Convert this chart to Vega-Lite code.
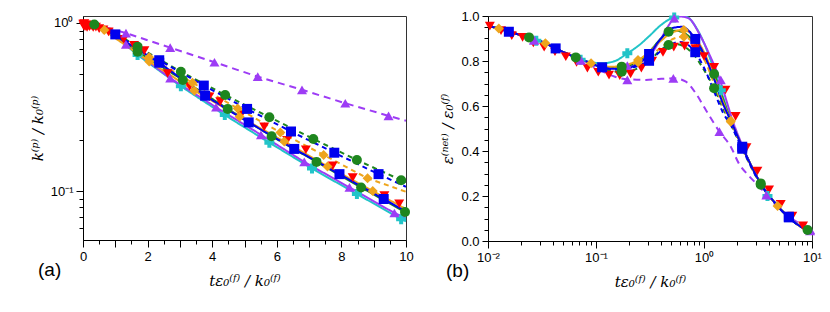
{
"$schema":"https://vega.github.io/schema/vega-lite/v6.json",
"padding":{"left":29,"top":9,"right":5,"bottom":5},
"spacing":26,
"datasets":{
"kl":[
{"s":"C","x":0,"y":1},{"s":"C","x":0.5,"y":0.95},{"s":"C","x":1,"y":0.835},{"s":"C","x":1.69,"y":0.645},{"s":"C","x":3.03,"y":0.42},{"s":"C","x":4.39,"y":0.283},{"s":"C","x":5.77,"y":0.194},{"s":"C","x":7.09,"y":0.136},{"s":"C","x":8.48,"y":0.096},{"s":"C","x":9.85,"y":0.068},{"s":"C","x":10,"y":0.066},
{"s":"PS","x":0,"y":1},{"s":"PS","x":0.5,"y":0.95},{"s":"PS","x":1,"y":0.83},{"s":"PS","x":1.33,"y":0.745},{"s":"PS","x":2.7,"y":0.469},{"s":"PS","x":4.12,"y":0.315},{"s":"PS","x":5.51,"y":0.216},{"s":"PS","x":6.85,"y":0.149},{"s":"PS","x":8.25,"y":0.105},{"s":"PS","x":9.64,"y":0.074},{"s":"PS","x":10,"y":0.069},
{"s":"PD","x":0,"y":1},{"s":"PD","x":0.5,"y":0.965},{"s":"PD","x":1.33,"y":0.87},{"s":"PD","x":2.7,"y":0.713},{"s":"PD","x":4.07,"y":0.584},{"s":"PD","x":5.41,"y":0.479},{"s":"PD","x":6.78,"y":0.4},{"s":"PD","x":8.12,"y":0.333},{"s":"PD","x":9.46,"y":0.28},{"s":"PD","x":10,"y":0.262},
{"s":"GD","x":0,"y":1},{"s":"GD","x":0.35,"y":0.98},{"s":"GD","x":1,"y":0.87},{"s":"GD","x":1.69,"y":0.723},{"s":"GD","x":3.03,"y":0.513},{"s":"GD","x":4.4,"y":0.373},{"s":"GD","x":5.77,"y":0.275},{"s":"GD","x":7.13,"y":0.204},{"s":"GD","x":8.48,"y":0.153},{"s":"GD","x":9.85,"y":0.116},{"s":"GD","x":10,"y":0.113},
{"s":"GS","x":0,"y":1},{"s":"GS","x":0.35,"y":0.975},{"s":"GS","x":1,"y":0.85},{"s":"GS","x":1.69,"y":0.675},{"s":"GS","x":3.09,"y":0.458},{"s":"GS","x":4.48,"y":0.308},{"s":"GS","x":5.84,"y":0.212},{"s":"GS","x":7.23,"y":0.149},{"s":"GS","x":8.61,"y":0.105},{"s":"GS","x":9.97,"y":0.075},{"s":"GS","x":10,"y":0.074},
{"s":"OD","x":0,"y":1},{"s":"OD","x":0.66,"y":0.908},{"s":"OD","x":2.05,"y":0.625},{"s":"OD","x":3.39,"y":0.441},{"s":"OD","x":4.79,"y":0.31},{"s":"OD","x":6.11,"y":0.223},{"s":"OD","x":7.45,"y":0.164},{"s":"OD","x":8.81,"y":0.119},{"s":"OD","x":10,"y":0.099},
{"s":"OS","x":0,"y":1},{"s":"OS","x":0.66,"y":0.9},{"s":"OS","x":2.05,"y":0.59},{"s":"OS","x":3.45,"y":0.395},{"s":"OS","x":4.85,"y":0.277},{"s":"OS","x":6.23,"y":0.197},{"s":"OS","x":7.57,"y":0.14},{"s":"OS","x":8.97,"y":0.1},{"s":"OS","x":10,"y":0.078},
{"s":"BD","x":0,"y":1},{"s":"BD","x":0.5,"y":0.96},{"s":"BD","x":1,"y":0.855},{"s":"BD","x":2.36,"y":0.6},{"s":"BD","x":3.74,"y":0.424},{"s":"BD","x":5.08,"y":0.308},{"s":"BD","x":6.44,"y":0.226},{"s":"BD","x":7.78,"y":0.169},{"s":"BD","x":9.15,"y":0.126},{"s":"BD","x":10,"y":0.106},
{"s":"BS","x":0,"y":1},{"s":"BS","x":0.5,"y":0.955},{"s":"BS","x":1,"y":0.845},{"s":"BS","x":2.36,"y":0.58},{"s":"BS","x":3.78,"y":0.369},{"s":"BS","x":5.13,"y":0.256},{"s":"BS","x":6.54,"y":0.178},{"s":"BS","x":7.94,"y":0.126},{"s":"BS","x":9.31,"y":0.0896},{"s":"BS","x":10,"y":0.0755}
],
"km":[
{"s":"R","x":0.01,"y":0.985},{"s":"R","x":0.02,"y":0.96},{"s":"R","x":0.04,"y":0.99},{"s":"R","x":0.063,"y":0.95},{"s":"R","x":0.1,"y":0.975},{"s":"R","x":0.126,"y":0.94},{"s":"R","x":0.158,"y":0.97},{"s":"R","x":0.2,"y":0.95},{"s":"R","x":0.25,"y":0.965},{"s":"R","x":0.316,"y":0.94},{"s":"R","x":0.4,"y":0.945},{"s":"R","x":0.5,"y":0.925},{"s":"R","x":0.63,"y":0.91},{"s":"R","x":0.79,"y":0.885},{"s":"R","x":1.0,"y":0.85},{"s":"R","x":1.26,"y":0.8},{"s":"R","x":1.58,"y":0.735},{"s":"R","x":1.9,"y":0.684},{"s":"R","x":2.62,"y":0.5},{"s":"R","x":3.3,"y":0.42},{"s":"R","x":3.91,"y":0.364},{"s":"R","x":4.25,"y":0.34},{"s":"R","x":4.89,"y":0.283},{"s":"R","x":5.61,"y":0.241},{"s":"R","x":6.32,"y":0.2},{"s":"R","x":6.9,"y":0.176},{"s":"R","x":7.73,"y":0.141},{"s":"R","x":8.35,"y":0.12},{"s":"R","x":9.33,"y":0.094},{"s":"R","x":9.79,"y":0.084},
{"s":"C","x":1.69,"y":0.645},{"s":"C","x":3.03,"y":0.42},{"s":"C","x":4.39,"y":0.283},{"s":"C","x":5.77,"y":0.194},{"s":"C","x":7.09,"y":0.136},{"s":"C","x":8.48,"y":0.096},{"s":"C","x":9.85,"y":0.068},
{"s":"PS","x":1.33,"y":0.745},{"s":"PS","x":2.7,"y":0.469},{"s":"PS","x":4.12,"y":0.315},{"s":"PS","x":5.51,"y":0.216},{"s":"PS","x":6.85,"y":0.149},{"s":"PS","x":8.25,"y":0.105},{"s":"PS","x":9.64,"y":0.074},
{"s":"PD","x":1.33,"y":0.87},{"s":"PD","x":2.7,"y":0.713},{"s":"PD","x":4.07,"y":0.584},{"s":"PD","x":5.41,"y":0.479},{"s":"PD","x":6.78,"y":0.4},{"s":"PD","x":8.12,"y":0.333},{"s":"PD","x":9.46,"y":0.28},
{"s":"GD","x":0.35,"y":0.98},{"s":"GD","x":1.69,"y":0.723},{"s":"GD","x":3.03,"y":0.513},{"s":"GD","x":4.4,"y":0.373},{"s":"GD","x":5.77,"y":0.275},{"s":"GD","x":7.13,"y":0.204},{"s":"GD","x":8.48,"y":0.153},{"s":"GD","x":9.85,"y":0.116},
{"s":"GS","x":1.69,"y":0.675},{"s":"GS","x":3.09,"y":0.458},{"s":"GS","x":4.48,"y":0.308},{"s":"GS","x":5.84,"y":0.212},{"s":"GS","x":7.23,"y":0.149},{"s":"GS","x":8.61,"y":0.105},{"s":"GS","x":9.97,"y":0.075},
{"s":"OD","x":0.66,"y":0.908},{"s":"OD","x":2.05,"y":0.625},{"s":"OD","x":3.39,"y":0.441},{"s":"OD","x":4.79,"y":0.31},{"s":"OD","x":6.11,"y":0.223},{"s":"OD","x":7.45,"y":0.164},{"s":"OD","x":8.81,"y":0.119},
{"s":"OS","x":2.05,"y":0.59},{"s":"OS","x":3.45,"y":0.395},{"s":"OS","x":4.85,"y":0.277},{"s":"OS","x":6.23,"y":0.197},{"s":"OS","x":7.57,"y":0.14},{"s":"OS","x":8.97,"y":0.1},
{"s":"BD","x":1.0,"y":0.855},{"s":"BD","x":2.36,"y":0.6},{"s":"BD","x":3.74,"y":0.424},{"s":"BD","x":5.08,"y":0.308},{"s":"BD","x":6.44,"y":0.226},{"s":"BD","x":7.78,"y":0.169},{"s":"BD","x":9.15,"y":0.126},
{"s":"BS","x":2.36,"y":0.58},{"s":"BS","x":3.78,"y":0.369},{"s":"BS","x":5.13,"y":0.256},{"s":"BS","x":6.54,"y":0.178},{"s":"BS","x":7.94,"y":0.126},{"s":"BS","x":9.31,"y":0.0896}
],
"el":[
{"s":"PD","x":0.01,"y":0.958},{"s":"PD","x":0.0156,"y":0.93},{"s":"PD","x":0.024,"y":0.905},{"s":"PD","x":0.034,"y":0.879},{"s":"PD","x":0.0423,"y":0.856},{"s":"PD","x":0.065,"y":0.814},{"s":"PD","x":0.09,"y":0.78},{"s":"PD","x":0.114,"y":0.755},{"s":"PD","x":0.15,"y":0.73},{"s":"PD","x":0.195,"y":0.719},{"s":"PD","x":0.29,"y":0.716},{"s":"PD","x":0.38,"y":0.72},{"s":"PD","x":0.53,"y":0.723},{"s":"PD","x":0.68,"y":0.708},{"s":"PD","x":0.84,"y":0.656},{"s":"PD","x":1.04,"y":0.582},{"s":"PD","x":1.39,"y":0.486},{"s":"PD","x":1.77,"y":0.419},{"s":"PD","x":2.1,"y":0.345},{"s":"PD","x":2.6,"y":0.29},{"s":"PD","x":3.35,"y":0.235},{"s":"PD","x":4.0,"y":0.19},{"s":"PD","x":5,"y":0.145},{"s":"PD","x":6,"y":0.112},{"s":"PD","x":7.6,"y":0.079},{"s":"PD","x":10,"y":0.048},
{"s":"C","x":0.01,"y":0.958},{"s":"C","x":0.0156,"y":0.93},{"s":"C","x":0.024,"y":0.905},{"s":"C","x":0.034,"y":0.879},{"s":"C","x":0.0423,"y":0.856},{"s":"C","x":0.065,"y":0.816},{"s":"C","x":0.09,"y":0.795},{"s":"C","x":0.114,"y":0.79},{"s":"C","x":0.15,"y":0.8},{"s":"C","x":0.195,"y":0.834},{"s":"C","x":0.25,"y":0.87},{"s":"C","x":0.31,"y":0.91},{"s":"C","x":0.4,"y":0.96},{"s":"C","x":0.5,"y":0.99},{"s":"C","x":0.6,"y":1.0},{"s":"C","x":0.7,"y":0.995},{"s":"C","x":0.83,"y":0.955},{"s":"C","x":1.0,"y":0.88},{"s":"C","x":1.24,"y":0.76},{"s":"C","x":1.5,"y":0.64},{"s":"C","x":1.77,"y":0.54},{"s":"C","x":2.26,"y":0.42},{"s":"C","x":3.35,"y":0.256},{"s":"C","x":4.8,"y":0.156},{"s":"C","x":6,"y":0.108},{"s":"C","x":9.1,"y":0.049},{"s":"C","x":10,"y":0.043},
{"s":"PS","x":0.01,"y":0.958},{"s":"PS","x":0.0156,"y":0.93},{"s":"PS","x":0.024,"y":0.905},{"s":"PS","x":0.034,"y":0.879},{"s":"PS","x":0.0423,"y":0.856},{"s":"PS","x":0.065,"y":0.816},{"s":"PS","x":0.09,"y":0.79},{"s":"PS","x":0.114,"y":0.772},{"s":"PS","x":0.15,"y":0.768},{"s":"PS","x":0.2,"y":0.778},{"s":"PS","x":0.25,"y":0.792},{"s":"PS","x":0.31,"y":0.82},{"s":"PS","x":0.4,"y":0.9},{"s":"PS","x":0.5,"y":0.975},{"s":"PS","x":0.6,"y":0.998},{"s":"PS","x":0.72,"y":0.99},{"s":"PS","x":0.9,"y":0.923},{"s":"PS","x":1.11,"y":0.834},{"s":"PS","x":1.37,"y":0.73},{"s":"PS","x":1.67,"y":0.6},{"s":"PS","x":1.77,"y":0.56},{"s":"PS","x":2.26,"y":0.425},{"s":"PS","x":3.35,"y":0.256},{"s":"PS","x":4.8,"y":0.156},{"s":"PS","x":6,"y":0.108},{"s":"PS","x":9.1,"y":0.049},{"s":"PS","x":10,"y":0.043},
{"s":"GD","x":0.01,"y":0.958},{"s":"GD","x":0.0156,"y":0.93},{"s":"GD","x":0.024,"y":0.905},{"s":"GD","x":0.034,"y":0.879},{"s":"GD","x":0.0423,"y":0.856},{"s":"GD","x":0.065,"y":0.816},{"s":"GD","x":0.09,"y":0.79},{"s":"GD","x":0.114,"y":0.77},{"s":"GD","x":0.15,"y":0.753},{"s":"GD","x":0.2,"y":0.755},{"s":"GD","x":0.25,"y":0.77},{"s":"GD","x":0.31,"y":0.8},{"s":"GD","x":0.4,"y":0.85},{"s":"GD","x":0.47,"y":0.871},{"s":"GD","x":0.55,"y":0.875},{"s":"GD","x":0.65,"y":0.865},{"s":"GD","x":0.83,"y":0.82},{"s":"GD","x":1.0,"y":0.76},{"s":"GD","x":1.24,"y":0.679},{"s":"GD","x":1.5,"y":0.59},{"s":"GD","x":1.77,"y":0.52},{"s":"GD","x":2.26,"y":0.41},{"s":"GD","x":3.35,"y":0.252},{"s":"GD","x":4.8,"y":0.155},{"s":"GD","x":6,"y":0.107},{"s":"GD","x":9.1,"y":0.049},{"s":"GD","x":10,"y":0.043},
{"s":"GS","x":0.01,"y":0.958},{"s":"GS","x":0.0156,"y":0.93},{"s":"GS","x":0.024,"y":0.905},{"s":"GS","x":0.034,"y":0.879},{"s":"GS","x":0.0423,"y":0.856},{"s":"GS","x":0.065,"y":0.816},{"s":"GS","x":0.09,"y":0.79},{"s":"GS","x":0.114,"y":0.772},{"s":"GS","x":0.15,"y":0.77},{"s":"GS","x":0.2,"y":0.78},{"s":"GS","x":0.25,"y":0.8},{"s":"GS","x":0.31,"y":0.84},{"s":"GS","x":0.4,"y":0.9},{"s":"GS","x":0.47,"y":0.93},{"s":"GS","x":0.55,"y":0.935},{"s":"GS","x":0.65,"y":0.925},{"s":"GS","x":0.83,"y":0.88},{"s":"GS","x":1.0,"y":0.82},{"s":"GS","x":1.24,"y":0.742},{"s":"GS","x":1.5,"y":0.63},{"s":"GS","x":1.77,"y":0.535},{"s":"GS","x":2.26,"y":0.419},{"s":"GS","x":3.35,"y":0.256},{"s":"GS","x":4.8,"y":0.156},{"s":"GS","x":6,"y":0.108},{"s":"GS","x":9.1,"y":0.049},{"s":"GS","x":10,"y":0.043},
{"s":"OD","x":0.01,"y":0.958},{"s":"OD","x":0.0156,"y":0.93},{"s":"OD","x":0.024,"y":0.905},{"s":"OD","x":0.034,"y":0.879},{"s":"OD","x":0.0423,"y":0.856},{"s":"OD","x":0.065,"y":0.816},{"s":"OD","x":0.09,"y":0.79},{"s":"OD","x":0.114,"y":0.774},{"s":"OD","x":0.15,"y":0.77},{"s":"OD","x":0.2,"y":0.78},{"s":"OD","x":0.245,"y":0.795},{"s":"OD","x":0.31,"y":0.82},{"s":"OD","x":0.4,"y":0.86},{"s":"OD","x":0.5,"y":0.895},{"s":"OD","x":0.65,"y":0.908},{"s":"OD","x":0.8,"y":0.88},{"s":"OD","x":1.0,"y":0.81},{"s":"OD","x":1.24,"y":0.7},{"s":"OD","x":1.5,"y":0.6},{"s":"OD","x":1.77,"y":0.53},{"s":"OD","x":2.26,"y":0.415},{"s":"OD","x":3.35,"y":0.255},{"s":"OD","x":4.8,"y":0.156},{"s":"OD","x":6,"y":0.108},{"s":"OD","x":9.1,"y":0.049},{"s":"OD","x":10,"y":0.043},
{"s":"OS","x":0.01,"y":0.958},{"s":"OS","x":0.0156,"y":0.93},{"s":"OS","x":0.024,"y":0.905},{"s":"OS","x":0.034,"y":0.879},{"s":"OS","x":0.0423,"y":0.856},{"s":"OS","x":0.065,"y":0.816},{"s":"OS","x":0.09,"y":0.79},{"s":"OS","x":0.114,"y":0.775},{"s":"OS","x":0.15,"y":0.775},{"s":"OS","x":0.2,"y":0.785},{"s":"OS","x":0.245,"y":0.804},{"s":"OS","x":0.31,"y":0.84},{"s":"OS","x":0.4,"y":0.89},{"s":"OS","x":0.5,"y":0.925},{"s":"OS","x":0.65,"y":0.938},{"s":"OS","x":0.8,"y":0.91},{"s":"OS","x":1.0,"y":0.84},{"s":"OS","x":1.24,"y":0.73},{"s":"OS","x":1.5,"y":0.62},{"s":"OS","x":1.77,"y":0.535},{"s":"OS","x":2.26,"y":0.419},{"s":"OS","x":3.35,"y":0.256},{"s":"OS","x":4.8,"y":0.156},{"s":"OS","x":6,"y":0.108},{"s":"OS","x":9.1,"y":0.049},{"s":"OS","x":10,"y":0.043},
{"s":"BD","x":0.01,"y":0.958},{"s":"BD","x":0.0156,"y":0.93},{"s":"BD","x":0.024,"y":0.905},{"s":"BD","x":0.034,"y":0.879},{"s":"BD","x":0.0423,"y":0.856},{"s":"BD","x":0.065,"y":0.816},{"s":"BD","x":0.09,"y":0.79},{"s":"BD","x":0.114,"y":0.772},{"s":"BD","x":0.15,"y":0.762},{"s":"BD","x":0.2,"y":0.768},{"s":"BD","x":0.25,"y":0.78},{"s":"BD","x":0.31,"y":0.801},{"s":"BD","x":0.4,"y":0.845},{"s":"BD","x":0.5,"y":0.875},{"s":"BD","x":0.6,"y":0.885},{"s":"BD","x":0.72,"y":0.87},{"s":"BD","x":0.83,"y":0.839},{"s":"BD","x":1.0,"y":0.77},{"s":"BD","x":1.24,"y":0.665},{"s":"BD","x":1.5,"y":0.57},{"s":"BD","x":1.77,"y":0.515},{"s":"BD","x":2.26,"y":0.41},{"s":"BD","x":3.35,"y":0.252},{"s":"BD","x":4.8,"y":0.155},{"s":"BD","x":6,"y":0.106},{"s":"BD","x":9.1,"y":0.049},{"s":"BD","x":10,"y":0.043},
{"s":"BS","x":0.01,"y":0.958},{"s":"BS","x":0.0156,"y":0.93},{"s":"BS","x":0.024,"y":0.905},{"s":"BS","x":0.034,"y":0.879},{"s":"BS","x":0.0423,"y":0.856},{"s":"BS","x":0.065,"y":0.816},{"s":"BS","x":0.09,"y":0.79},{"s":"BS","x":0.114,"y":0.772},{"s":"BS","x":0.15,"y":0.765},{"s":"BS","x":0.2,"y":0.77},{"s":"BS","x":0.25,"y":0.79},{"s":"BS","x":0.31,"y":0.83},{"s":"BS","x":0.4,"y":0.9},{"s":"BS","x":0.5,"y":0.945},{"s":"BS","x":0.63,"y":0.952},{"s":"BS","x":0.72,"y":0.935},{"s":"BS","x":0.83,"y":0.898},{"s":"BS","x":1.0,"y":0.83},{"s":"BS","x":1.24,"y":0.72},{"s":"BS","x":1.5,"y":0.61},{"s":"BS","x":1.77,"y":0.535},{"s":"BS","x":2.26,"y":0.419},{"s":"BS","x":3.35,"y":0.256},{"s":"BS","x":4.8,"y":0.156},{"s":"BS","x":6,"y":0.108},{"s":"BS","x":9.1,"y":0.049},{"s":"BS","x":10,"y":0.043}
],
"em":[
{"s":"R","x":0.0104,"y":0.955},{"s":"R","x":0.0132,"y":0.935},{"s":"R","x":0.0166,"y":0.913},{"s":"R","x":0.0209,"y":0.905},{"s":"R","x":0.0263,"y":0.88},{"s":"R","x":0.0331,"y":0.861},{"s":"R","x":0.0417,"y":0.841},{"s":"R","x":0.0525,"y":0.819},{"s":"R","x":0.0661,"y":0.794},{"s":"R","x":0.0832,"y":0.768},{"s":"R","x":0.105,"y":0.75},{"s":"R","x":0.132,"y":0.737},{"s":"R","x":0.166,"y":0.735},{"s":"R","x":0.209,"y":0.743},{"s":"R","x":0.263,"y":0.768},{"s":"R","x":0.331,"y":0.8},{"s":"R","x":0.417,"y":0.838},{"s":"R","x":0.525,"y":0.862},{"s":"R","x":0.661,"y":0.866},{"s":"R","x":0.832,"y":0.855},{"s":"R","x":1.0,"y":0.82},{"s":"R","x":1.24,"y":0.772},{"s":"R","x":1.58,"y":0.671},{"s":"R","x":1.96,"y":0.554},{"s":"R","x":2.47,"y":0.415},{"s":"R","x":3.12,"y":0.311},{"s":"R","x":4.0,"y":0.227},{"s":"R","x":5.13,"y":0.163},{"s":"R","x":6.57,"y":0.111},{"s":"R","x":8.26,"y":0.067},
{"s":"C","x":0.028,"y":0.89},{"s":"C","x":0.072,"y":0.806},{"s":"C","x":0.195,"y":0.834},{"s":"C","x":0.53,"y":0.993},{"s":"C","x":1.43,"y":0.67},{"s":"C","x":3.87,"y":0.2},
{"s":"PD","x":0.0267,"y":0.893},{"s":"PD","x":0.072,"y":0.804},{"s":"PD","x":0.195,"y":0.716},{"s":"PD","x":0.52,"y":0.723},{"s":"PD","x":1.39,"y":0.486},{"s":"PD","x":3.78,"y":0.204},{"s":"PD","x":9.6,"y":0.05},
{"s":"PS","x":0.0267,"y":0.893},{"s":"PS","x":0.072,"y":0.804},{"s":"PS","x":0.195,"y":0.78},{"s":"PS","x":0.53,"y":0.99},{"s":"PS","x":1.43,"y":0.716},{"s":"PS","x":9.6,"y":0.045},
{"s":"GD","x":0.024,"y":0.905},{"s":"GD","x":0.065,"y":0.816},{"s":"GD","x":0.173,"y":0.752},{"s":"GD","x":0.47,"y":0.871},{"s":"GD","x":1.24,"y":0.679},{"s":"GD","x":3.35,"y":0.25},{"s":"GD","x":9.1,"y":0.049},
{"s":"GS","x":0.173,"y":0.775},{"s":"GS","x":0.47,"y":0.93},{"s":"GS","x":1.24,"y":0.742},{"s":"GS","x":3.35,"y":0.256},
{"s":"OD","x":0.0126,"y":0.945},{"s":"OD","x":0.034,"y":0.879},{"s":"OD","x":0.09,"y":0.79},{"s":"OD","x":0.245,"y":0.795},{"s":"OD","x":0.65,"y":0.908},{"s":"OD","x":1.77,"y":0.53},{"s":"OD","x":4.8,"y":0.156},
{"s":"OS","x":0.245,"y":0.804},{"s":"OS","x":0.65,"y":0.938},{"s":"OS","x":1.77,"y":0.535},
{"s":"BD","x":0.0156,"y":0.93},{"s":"BD","x":0.0423,"y":0.856},{"s":"BD","x":0.114,"y":0.772},{"s":"BD","x":0.31,"y":0.801},{"s":"BD","x":0.83,"y":0.839},{"s":"BD","x":2.26,"y":0.41},{"s":"BD","x":6.1,"y":0.105},
{"s":"BS","x":0.31,"y":0.831},{"s":"BS","x":0.83,"y":0.898},{"s":"BS","x":2.26,"y":0.419},{"s":"BS","x":6.1,"y":0.108}
]
},
"hconcat":[
{
"width":323,"height":224,
"title":{"text":"(a)","orient":"bottom","anchor":"start","frame":"group","dx":-45,"dy":-27,"offset":0,"fontSize":19,"font":"Liberation Sans","fontWeight":"normal","color":"#000"},
"encoding":{
"x":{"field":"x","type":"quantitative","scale":{"domain":[0,10],"nice":false,"zero":false},
"axis":{"values":[0,0.5,1,1.5,2,2.5,3,3.5,4,4.5,5,5.5,6,6.5,7,7.5,8,8.5,9,9.5,10],"labelExpr":"datum.value % 2 == 0 ? format(datum.value, 'd') : ''","tickSize":{"condition":{"test":"datum.value % 1 == 0","value":7},"value":4},"title":"tε₀⁽ᶠ⁾ / k₀⁽ᶠ⁾","labelPadding":3,"titlePadding":10}},
"y":{"field":"y","type":"quantitative","scale":{"type":"log","domain":[0.0511,1.1],"nice":false},
"axis":{"values":[0.06,0.07,0.08,0.09,0.1,0.2,0.3,0.4,0.5,0.6,0.7,0.8,0.9,1],"labelExpr":"datum.value == 1 ? '10⁰' : (datum.value == 0.1 ? '10⁻¹' : '')","tickSize":{"condition":{"test":"datum.value == 1 || datum.value == 0.1","value":7},"value":4},"title":"k⁽ᵖ⁾ / k₀⁽ᵖ⁾","labelPadding":3,"titlePadding":5}},
"color":{"field":"s","type":"nominal","legend":null,"scale":{"domain":["R","C","PS","PD","BS","BD","GS","GD","OS","OD"],"range":["#ff0000","#22c4c8","#9d3cf5","#9d3cf5","#0000ee","#0000ee","#1e861e","#1e861e","#eea51c","#eea51c"]}}
},
"layer":[
{"data":{"name":"kl"},"mark":{"type":"line","strokeWidth":2,"clip":true},
"encoding":{"strokeDash":{"field":"s","type":"nominal","legend":null,"scale":{"domain":["C","PS","PD","BS","BD","GS","GD","OS","OD"],"range":[[1,0],[1,0],[7,5],[1,0],[5,4],[1,0],[5,4],[1,0],[5,4]]}}}},
{"data":{"name":"km"},"mark":{"type":"point","filled":true,"opacity":1,"size":100},
"encoding":{"shape":{"field":"s","type":"nominal","legend":null,"scale":{"domain":["R","C","PS","PD","BS","BD","GS","GD","OS","OD"],"range":["triangle-down","cross","triangle-up","triangle-up","square","square","circle","circle","diamond","diamond"]}}}}
]
},
{
"width":324,"height":225,
"title":{"text":"(b)","orient":"bottom","anchor":"start","frame":"group","dx":-42,"dy":-27,"offset":0,"fontSize":19,"font":"Liberation Sans","fontWeight":"normal","color":"#000"},
"encoding":{
"x":{"field":"x","type":"quantitative","scale":{"type":"log","domain":[0.01,10],"nice":false},
"axis":{"values":[0.01,0.02,0.03,0.04,0.05,0.06,0.07,0.08,0.09,0.1,0.2,0.3,0.4,0.5,0.6,0.7,0.8,0.9,1,2,3,4,5,6,7,8,9,10],"labelExpr":"datum.value == 0.01 ? '10⁻²' : datum.value == 0.1 ? '10⁻¹' : datum.value == 1 ? '10⁰' : datum.value == 10 ? '10¹' : ''","tickSize":{"condition":{"test":"datum.value == 0.01 || datum.value == 0.1 || datum.value == 1 || datum.value == 10","value":7},"value":4},"title":"tε₀⁽ᶠ⁾ / k₀⁽ᶠ⁾","labelPadding":3,"titlePadding":10}},
"y":{"field":"y","type":"quantitative","scale":{"domain":[0,1],"nice":false,"zero":false},
"axis":{"values":[0,0.05,0.1,0.15,0.2,0.25,0.3,0.35,0.4,0.45,0.5,0.55,0.6,0.65,0.7,0.75,0.8,0.85,0.9,0.95,1],"labelExpr":"round(datum.value*100) % 20 == 0 ? format(datum.value, '.1f') : ''","tickSize":{"condition":{"test":"round(datum.value*100) % 20 == 0","value":6},"value":4},"title":"ε⁽ⁿᵉᵗ⁾ / ε₀⁽ᶠ⁾","labelPadding":3,"titlePadding":5}},
"color":{"field":"s","type":"nominal","legend":null,"scale":{"domain":["R","C","PS","PD","BS","BD","GS","GD","OS","OD"],"range":["#ff0000","#22c4c8","#9d3cf5","#9d3cf5","#0000ee","#0000ee","#1e861e","#1e861e","#eea51c","#eea51c"]}}
},
"layer":[
{"data":{"name":"el"},"mark":{"type":"line","strokeWidth":2,"clip":true,"interpolate":"monotone"},
"encoding":{"strokeDash":{"field":"s","type":"nominal","legend":null,"scale":{"domain":["C","PS","PD","BS","BD","GS","GD","OS","OD"],"range":[[1,0],[1,0],[7,5],[1,0],[5,4],[1,0],[5,4],[1,0],[5,4]]}}}},
{"data":{"name":"em"},"mark":{"type":"point","filled":true,"opacity":1,"size":100},
"encoding":{"shape":{"field":"s","type":"nominal","legend":null,"scale":{"domain":["R","C","PS","PD","BS","BD","GS","GD","OS","OD"],"range":["triangle-down","cross","triangle-up","triangle-up","square","square","circle","circle","diamond","diamond"]}}}}
]
}
],
"config":{
"view":{"stroke":"#333","strokeWidth":1},
"axis":{"grid":false,"domainColor":"#000","tickColor":"#000","labelColor":"#000","labelFont":"Liberation Sans","labelFontSize":13,"titleFont":"DejaVu Serif","titleFontStyle":"italic","titleFontWeight":"normal","titleFontSize":15,"titleColor":"#000","labelOverlap":false,"labelBound":false,"labelFlush":false}
}
}
